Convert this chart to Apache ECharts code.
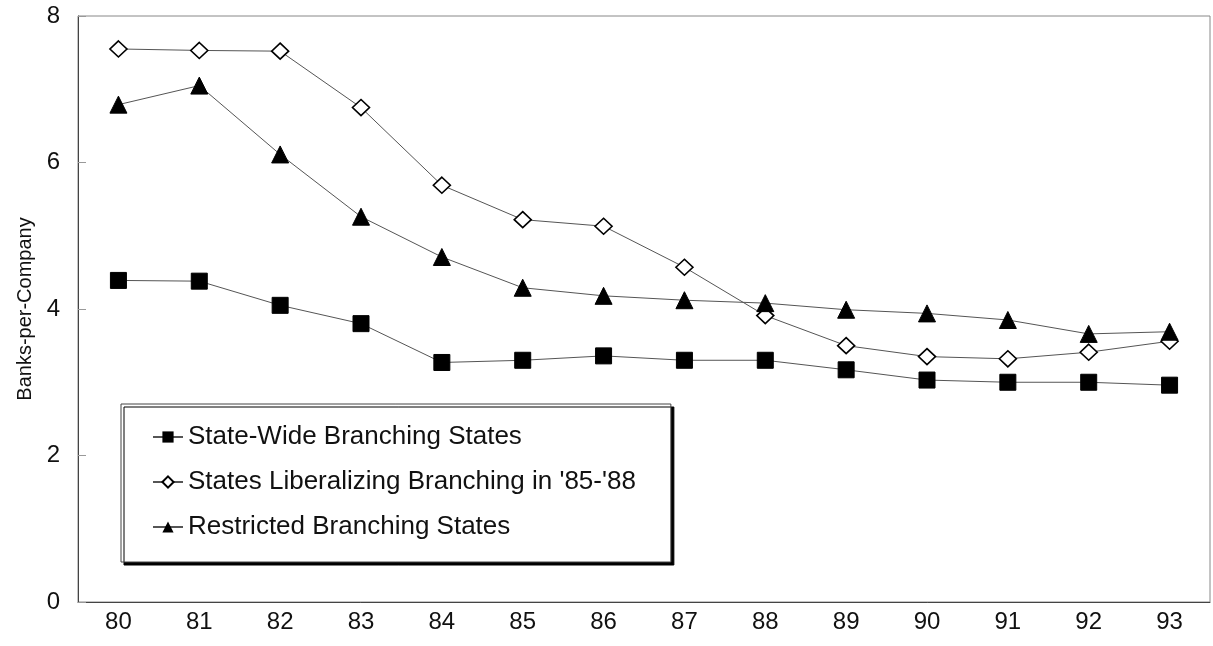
<!DOCTYPE html>
<html>
<head>
<meta charset="utf-8">
<script src="https://cdn.jsdelivr.net/npm/echarts@6/dist/echarts.min.js"></script>
<style>
html, body { margin: 0; padding: 0; background: #fff; }
#chart { width: 1213px; height: 646px; }
</style>
</head>
<body>
<div id="chart"></div>
<script>
const years = ['80','81','82','83','84','85','86','87','88','89','90','91','92','93'];
const stateWide = [4.39, 4.38, 4.05, 3.80, 3.27, 3.30, 3.36, 3.30, 3.30, 3.17, 3.03, 3.00, 3.00, 2.96];
const liberalizing = [7.55, 7.53, 7.52, 6.75, 5.69, 5.22, 5.13, 4.57, 3.91, 3.50, 3.35, 3.32, 3.41, 3.56];
const restricted = [6.79, 7.05, 6.11, 5.26, 4.71, 4.29, 4.18, 4.12, 4.08, 3.99, 3.94, 3.85, 3.66, 3.69];
const yTicks = [0, 2, 4, 6, 8];
const seriesNames = ['State-Wide Branching States', "States Liberalizing Branching in '85-'88", 'Restricted Branching States'];

const font = "Arial, 'Liberation Sans', sans-serif";
const chart = echarts.init(document.getElementById('chart'), null, { renderer: 'canvas' });
chart.setOption({
  animation: false,
  backgroundColor: '#ffffff',
  grid: { left: 78, right: 3, top: 16, bottom: 44, show: true, borderColor: '#888', borderWidth: 1, backgroundColor: 'transparent' },
  xAxis: {
    type: 'category',
    data: years,
    boundaryGap: true,
    axisLine: { lineStyle: { color: '#444', width: 1 } },
    axisTick: { inside: true, alignWithLabel: true, length: 7, lineStyle: { color: '#444' } },
    axisLabel: { color: '#111', fontFamily: font, fontSize: 24, margin: 8 },
    splitLine: { show: false }
  },
  yAxis: {
    type: 'value',
    min: yTicks[0],
    max: yTicks[yTicks.length - 1],
    interval: 2,
    name: 'Banks-per-Company',
    nameLocation: 'middle',
    nameGap: 40,
    nameTextStyle: { color: '#111', fontFamily: font, fontSize: 20 },
    axisLine: { show: true, lineStyle: { color: '#444', width: 1 } },
    axisTick: { show: true, inside: true, length: 8, lineStyle: { color: '#999' } },
    axisLabel: { color: '#111', fontFamily: font, fontSize: 24, margin: 18 },
    splitLine: { show: false }
  },
  legend: {
    orient: 'vertical',
    left: 121,
    top: 404,
    data: seriesNames,
    backgroundColor: '#fff',
    borderColor: '#444',
    borderWidth: 1,
    shadowColor: '#000',
    shadowBlur: 0,
    shadowOffsetX: 3,
    shadowOffsetY: 3,
    padding: [18, 35, 20, 31],
    itemGap: 15,
    itemWidth: 30,
    itemHeight: 14,
    textStyle: { color: '#111', fontFamily: font, fontSize: 26, lineHeight: 30 }
  },
  series: [
    {
      name: seriesNames[0], type: 'line', data: stateWide,
      symbol: 'rect', symbolSize: 16,
      itemStyle: { color: '#000', borderColor: '#000' },
      lineStyle: { color: '#555', width: 1 }
    },
    {
      name: seriesNames[1], type: 'line', data: liberalizing,
      symbol: 'diamond', symbolSize: [17, 16],
      itemStyle: { color: '#fff', borderColor: '#000', borderWidth: 1.6 },
      lineStyle: { color: '#555', width: 1 }
    },
    {
      name: seriesNames[2], type: 'line', data: restricted,
      symbol: 'triangle', symbolSize: 17,
      itemStyle: { color: '#000', borderColor: '#000' },
      lineStyle: { color: '#555', width: 1 }
    }
  ]
});
</script>
</body>
</html>
